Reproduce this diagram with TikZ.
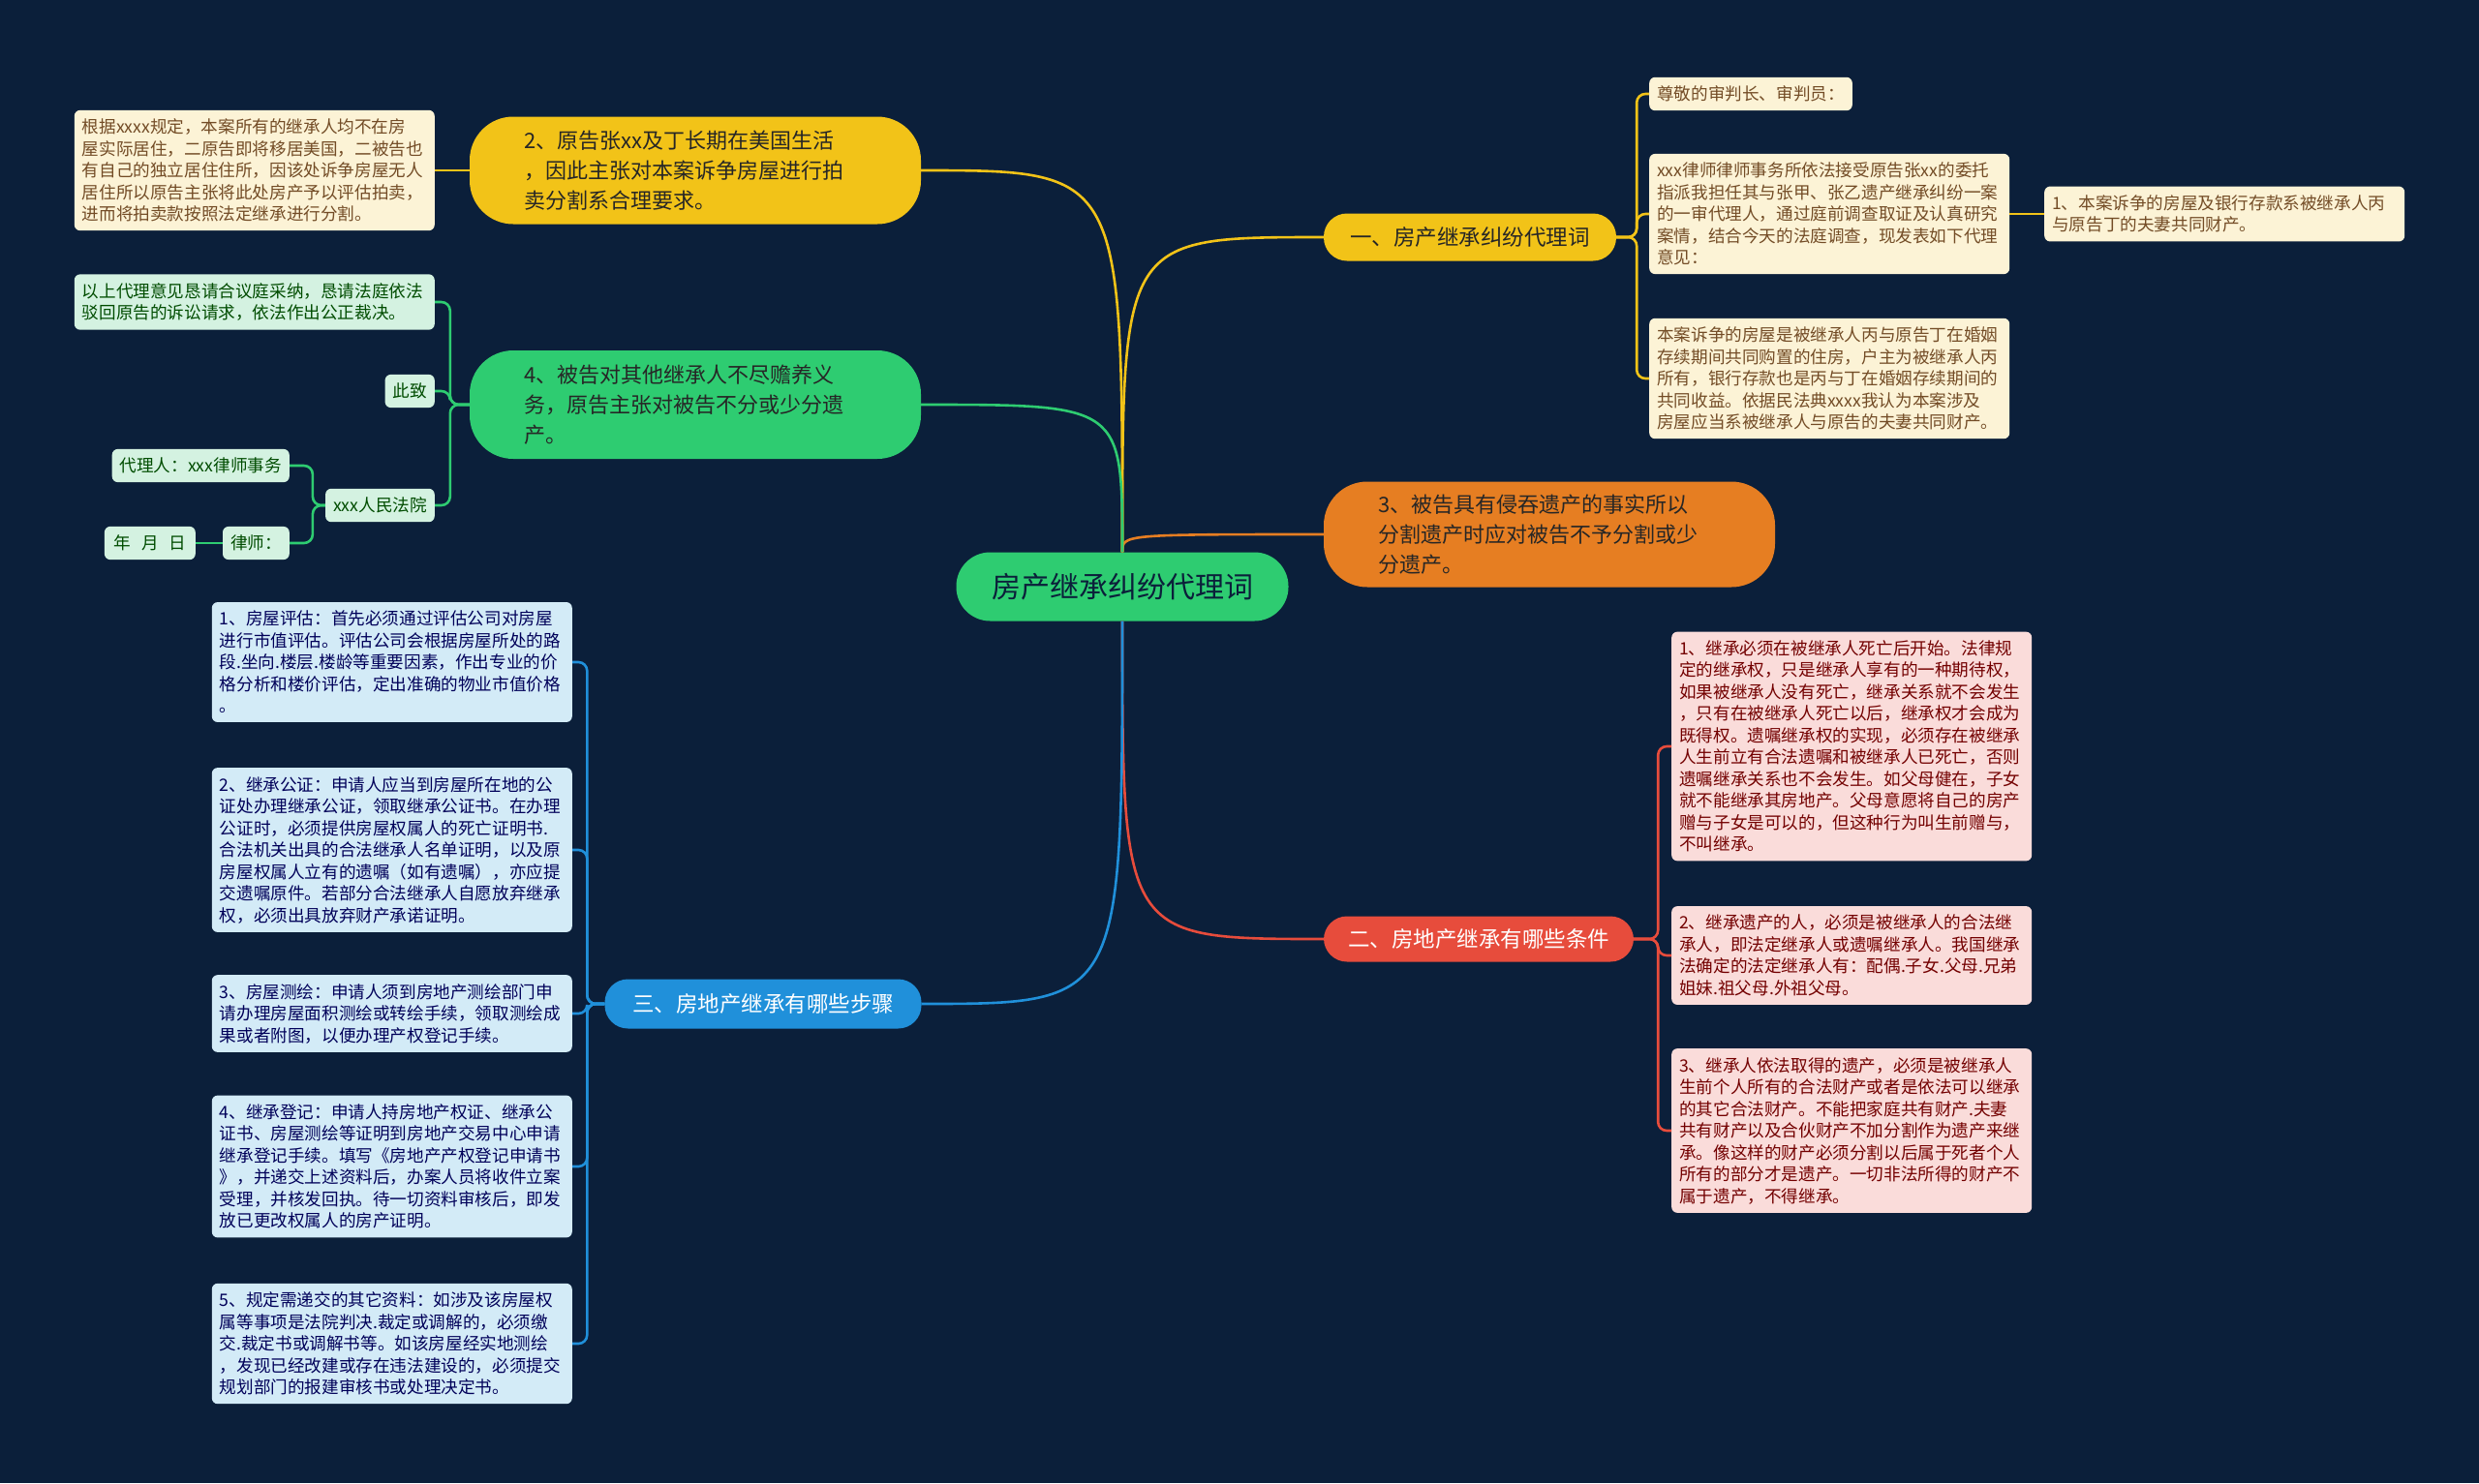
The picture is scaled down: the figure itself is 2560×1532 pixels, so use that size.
\documentclass[tikz,border=0pt]{standalone}
\usepackage{fontspec}
\setmainfont{Noto Sans CJK SC}
\usepackage{tikz}
\definecolor{bg}{HTML}{0B1F3A}
\definecolor{cY}{HTML}{F2C318}
\definecolor{cO}{HTML}{E67E22}
\definecolor{cR}{HTML}{E74C3C}
\definecolor{cB}{HTML}{2090DA}
\definecolor{cG}{HTML}{2ECC71}
\definecolor{lY}{HTML}{FCF3D6}
\definecolor{lG}{HTML}{D4F2E1}
\definecolor{lR}{HTML}{FADCDA}
\definecolor{lB}{HTML}{D3EBF7}
\tikzset{
  leaf/.style={rounded corners=6pt, inner xsep=8pt, inner ysep=9pt, align=left,
    font=\fontsize{17.6}{22.5}\selectfont},
  leafw/.style={leaf, text width=356pt},
  pill/.style={rounded corners=24pt, inner sep=0pt, font=\fontsize{22.5}{31}\selectfont},
  bigpill/.style={rounded corners=45pt, inner xsep=56pt, inner ysep=12pt, align=left,
    text width=354pt, font=\fontsize{22}{31}\selectfont},
  link/.style={line width=2.6pt},
  elbow/.style={line width=2.6pt, rounded corners=9pt}
}

\begin{document}
\begin{tikzpicture}[x=1pt, y=-1pt,
  yl/.style={leaf, fill=lY, text=brown!60!black},
  gl/.style={leaf, fill=lG, text=green!30!black},
  rl/.style={leaf, fill=lR, text=red!45!black},
  bl/.style={leaf, fill=lB, text=blue!35!black}
]
\useasboundingbox (0,0) rectangle (2560,1532);
\fill[bg] (0,0) rectangle (2560,1532);

\node[pill, fill=cG, text=bg, minimum width=343pt, minimum height=71pt, rounded corners=35pt,
  font=\fontsize{30}{36}\selectfont] (root) at (1159,606) {房产继承纠纷代理词};

% right side
\node[pill, fill=cY, text=black!85, minimum width=302pt, minimum height=49pt] (one) at (1518,245) {一、房产继承纠纷代理词};
\node[bigpill, fill=cO, text=black!85, minimum height=109pt] (three) at (1600,552)
  {3、被告具有侵吞遗产的事实所以\\分割遗产时应对被告不予分割或少\\分遗产。};
\node[pill, fill=cR, text=white, minimum width=320pt, minimum height=47pt] (two) at (1527,970) {二、房地产继承有哪些条件};

\node[yl, anchor=west] (respect) at (1703,97) {尊敬的审判长、审判员：};
\node[yl, leafw, anchor=west] (entrust) at (1703,221) {xxx律师律师事务所依法接受原告张xx的委托\\指派我担任其与张甲、张乙遗产继承纠纷一案\\的一审代理人，通过庭前调查取证及认真研究\\案情，结合今天的法庭调查，现发表如下代理\\意见：};
\node[yl, leafw, anchor=west] (opinion) at (2111,221) {1、本案诉争的房屋及银行存款系被继承人丙\\与原告丁的夫妻共同财产。};
\node[yl, leafw, anchor=west] (house) at (1703,391) {本案诉争的房屋是被继承人丙与原告丁在婚姻\\存续期间共同购置的住房，户主为被继承人丙\\所有，银行存款也是丙与丁在婚姻存续期间的\\共同收益。依据民法典xxxx我认为本案涉及\\房屋应当系被继承人与原告的夫妻共同财产。};

\node[rl, leafw, anchor=west] (cond1) at (1726,771) {1、继承必须在被继承人死亡后开始。法律规\\定的继承权，只是继承人享有的一种期待权，\\如果被继承人没有死亡，继承关系就不会发生\\，只有在被继承人死亡以后，继承权才会成为\\既得权。遗嘱继承权的实现，必须存在被继承\\人生前立有合法遗嘱和被继承人已死亡，否则\\遗嘱继承关系也不会发生。如父母健在，子女\\就不能继承其房地产。父母意愿将自己的房产\\赠与子女是可以的，但这种行为叫生前赠与，\\不叫继承。};
\node[rl, leafw, anchor=west] (cond2) at (1726,987) {2、继承遗产的人，必须是被继承人的合法继\\承人，即法定继承人或遗嘱继承人。我国继承\\法确定的法定继承人有：配偶.子女.父母.兄弟\\姐妹.祖父母.外祖父母。};
\node[rl, leafw, anchor=west] (cond3) at (1726,1168) {3、继承人依法取得的遗产，必须是被继承人\\生前个人所有的合法财产或者是依法可以继承\\的其它合法财产。不能把家庭共有财产.夫妻\\共有财产以及合伙财产不加分割作为遗产来继\\承。像这样的财产必须分割以后属于死者个人\\所有的部分才是遗产。一切非法所得的财产不\\属于遗产，不得继承。};

% left side
\node[bigpill, fill=cY, text=black!85, minimum height=111pt] (usa) at (718,176)
  {2、原告张xx及丁长期在美国生活\\，因此主张对本案诉争房屋进行拍\\卖分割系合理要求。};
\node[bigpill, fill=cG, text=black!85, minimum height=112pt] (support) at (718,418)
  {4、被告对其他继承人不尽赡养义\\务，原告主张对被告不分或少分遗\\产。};
\node[pill, fill=cB, text=white, minimum width=327pt, minimum height=51pt] (steps) at (788,1037) {三、房地产继承有哪些步骤};

\node[yl, leafw, anchor=east] (rule) at (449,176) {根据xxxx规定，本案所有的继承人均不在房\\屋实际居住，二原告即将移居美国，二被告也\\有自己的独立居住住所，因该处诉争房屋无人\\居住所以原告主张将此处房产予以评估拍卖，\\进而将拍卖款按照法定继承进行分割。};

\node[gl, leafw, anchor=east] (request) at (449,312) {以上代理意见恳请合议庭采纳，恳请法庭依法\\驳回原告的诉讼请求，依法作出公正裁决。};
\node[gl, anchor=east] (salute) at (449,404) {此致};
\node[gl, anchor=east] (court) at (449,522) {xxx人民法院};
\node[gl, anchor=east] (agent) at (299,481) {代理人：xxx律师事务};
\node[gl, anchor=east] (lawyer) at (299,561) {律师：};
\node[gl, anchor=east, inner xsep=10pt] (date) at (202,561) {年\hspace{0.6em}月\hspace{0.6em}日};

\node[bl, leafw, anchor=east] (s1) at (591,684) {1、房屋评估：首先必须通过评估公司对房屋\\进行市值评估。评估公司会根据房屋所处的路\\段.坐向.楼层.楼龄等重要因素，作出专业的价\\格分析和楼价评估，定出准确的物业市值价格\\。};
\node[bl, leafw, anchor=east] (s2) at (591,878) {2、继承公证：申请人应当到房屋所在地的公\\证处办理继承公证，领取继承公证书。在办理\\公证时，必须提供房屋权属人的死亡证明书.\\合法机关出具的合法继承人名单证明，以及原\\房屋权属人立有的遗嘱（如有遗嘱），亦应提\\交遗嘱原件。若部分合法继承人自愿放弃继承\\权，必须出具放弃财产承诺证明。};
\node[bl, leafw, anchor=east] (s3) at (591,1047) {3、房屋测绘：申请人须到房地产测绘部门申\\请办理房屋面积测绘或转绘手续，领取测绘成\\果或者附图，以便办理产权登记手续。};
\node[bl, leafw, anchor=east] (s4) at (591,1205) {4、继承登记：申请人持房地产权证、继承公\\证书、房屋测绘等证明到房地产交易中心申请\\继承登记手续。填写《房地产产权登记申请书\\》，并递交上述资料后，办案人员将收件立案\\受理，并核发回执。待一切资料审核后，即发\\放已更改权属人的房产证明。};
\node[bl, leafw, anchor=east] (s5) at (591,1388) {5、规定需递交的其它资料：如涉及该房屋权\\属等事项是法院判决.裁定或调解的，必须缴\\交.裁定书或调解书等。如该房屋经实地测绘\\，发现已经改建或存在违法建设的，必须提交\\规划部门的报建审核书或处理决定书。};

% root to branches
\draw[link, cY] (root.north) .. controls (root.north |- one.west) .. (one.west);
\draw[link, cO] (root.north) .. controls (root.north |- three.west) .. (three.west);
\draw[link, cR] (root.south) .. controls (root.south |- two.west) .. (two.west);
\draw[link, cY] (root.north) .. controls (root.north |- usa.east) .. (usa.east);
\draw[link, cG] (root.north) .. controls (root.north |- support.east) .. (support.east);
\draw[link, cB] (root.south) .. controls (root.south |- steps.east) .. (steps.east);

% branches to leaves
\foreach \c in {respect,entrust,house} \draw[elbow, cY] (one.east) -- ++(21,0) |- (\c.west);
\draw[link, cY] (entrust.east) -- (opinion.west);
\foreach \c in {cond1,cond2,cond3} \draw[elbow, cR] (two.east) -- ++(25,0) |- (\c.west);
\draw[link, cY] (usa.west) -- (rule.east);
\foreach \c in {request,salute,court} \draw[elbow, cG] (support.west) -- ++(-20,0) |- (\c.east);
\foreach \c in {agent,lawyer} \draw[elbow, cG] (court.west) -- ++(-13,0) |- (\c.east);
\draw[link, cG] (lawyer.west) -- (date.east);
\foreach \c in {s1,s2,s3,s4,s5} \draw[elbow, cB] (steps.west) -- ++(-18,0) |- (\c.east);
\end{tikzpicture}
\end{document}
